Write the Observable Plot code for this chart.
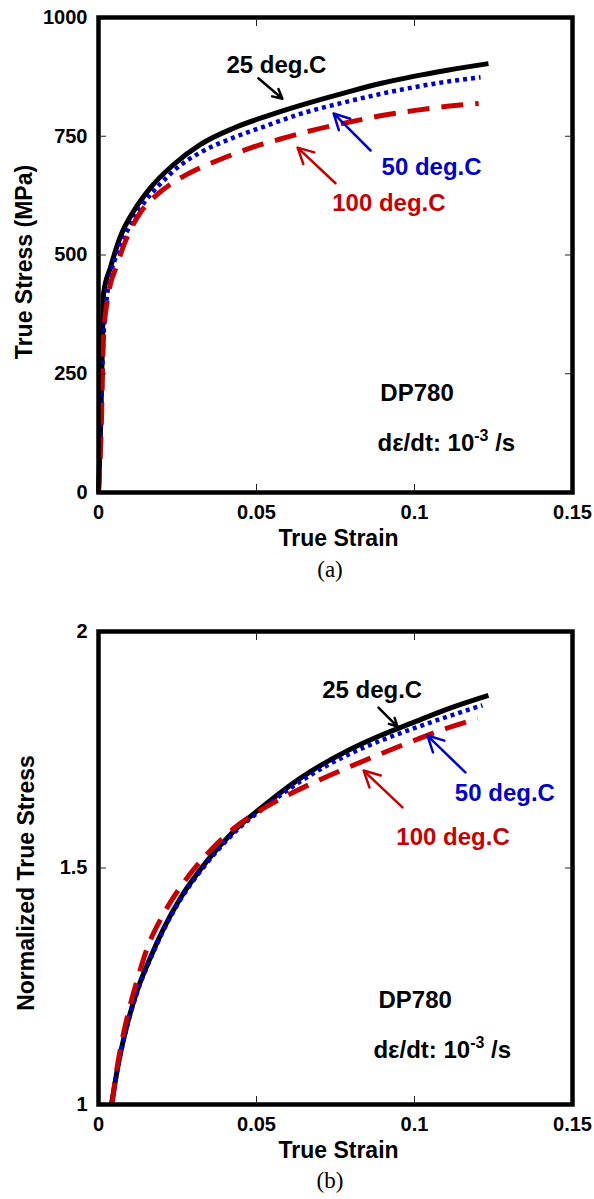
<!DOCTYPE html>
<html>
<head>
<meta charset="utf-8">
<script src="https://cdn.jsdelivr.net/npm/d3@7"></script>
<script src="https://cdn.jsdelivr.net/npm/@observablehq/plot@0.6"></script>
<style>
  body { margin: 0; background: #fff; width: 594px; }
  svg { display: block; }
  .cap {
    font-family: "Liberation Serif", "Times New Roman", serif;
    font-size: 23px;
    height: 30px;
    line-height: 30px;
    text-align: center;
    padding-left: 66px;
    box-sizing: border-box;
    width: 594px;
  }
</style>
</head>
<body>
<div id="panelA"></div>
<div class="cap">(a)</div>
<div id="panelB"></div>
<div class="cap">(b)</div>
<script>
// ---- axes ----
const strainTicks = [0, 0.05, 0.1, 0.15];
const strainTickLabels = ["0", "0.05", "0.1", "0.15"];
const stressTicks = [0, 250, 500, 750, 1000];
const stressTickLabels = ["0", "250", "500", "750", "1000"];
const normTicks = [1, 1.5, 2];
const normTickLabels = ["1", "1.5", "2"];

// ---- series labels / colours ----
const seriesNames = ["25 deg.C", "50 deg.C", "100 deg.C"];
const seriesColors = ["#000000", "#0000cc", "#c80000"];

// ---- (a) true stress–strain, DP780 ----
const strain25 = [0, 0.0006, 0.0012, 0.0016, 0.0038, 0.007, 0.0111, 0.0165, 0.0237, 0.0323, 0.0427, 0.0535, 0.0639, 0.0788, 0.0892, 0.0997, 0.1104, 0.1234];
const stress25 = [0, 120, 300, 419, 474, 540, 592, 642, 690, 733, 767, 793, 815, 843, 861, 876, 889, 903];

const strain50 = [0, 0.0006, 0.0014, 0.0028, 0.0054, 0.0092, 0.0142, 0.0196, 0.025, 0.0323, 0.0427, 0.0535, 0.0639, 0.0788, 0.0892, 0.0997, 0.1104, 0.1209];
const stress50 = [0, 110, 300, 419, 495, 552, 608, 650, 684, 716, 747, 773, 797, 823, 839, 853, 865, 874];

const strain100 = [0, 0.0008, 0.0016, 0.0028, 0.006, 0.0092, 0.0133, 0.0187, 0.0237, 0.0301, 0.0377, 0.048, 0.0585, 0.068, 0.0788, 0.0892, 0.0997, 0.1104, 0.1203];
const stress100 = [0, 120, 330, 404, 482, 540, 590, 628, 653, 677, 699, 725, 746, 763, 779, 793, 804, 813, 819];

// ---- (b) normalized true stress ----
const normStrain25 = [0.0041, 0.0064, 0.0091, 0.0122, 0.0165, 0.0206, 0.026, 0.0345, 0.0427, 0.0535, 0.0639, 0.0788, 0.0892, 0.0997, 0.1104, 0.1234];
const norm25 = [1.0, 1.09, 1.17, 1.24, 1.312, 1.372, 1.437, 1.516, 1.577, 1.638, 1.69, 1.748, 1.78, 1.808, 1.836, 1.865];

const normStrain50 = [0.0041, 0.0064, 0.0091, 0.0122, 0.0165, 0.0206, 0.026, 0.0345, 0.0427, 0.0535, 0.0639, 0.0788, 0.0892, 0.0997, 0.1104, 0.1215];
const norm50 = [1.0, 1.088, 1.167, 1.237, 1.309, 1.369, 1.434, 1.512, 1.573, 1.633, 1.683, 1.739, 1.769, 1.795, 1.82, 1.844];

const normStrain100 = [0.0043, 0.0054, 0.007, 0.0091, 0.0122, 0.0154, 0.0206, 0.0265, 0.0344, 0.0427, 0.0522, 0.0617, 0.0788, 0.0892, 0.0997, 0.1104, 0.12];
const norm100 = [1.0, 1.057, 1.12, 1.185, 1.262, 1.33, 1.403, 1.465, 1.53, 1.583, 1.626, 1.66, 1.712, 1.741, 1.769, 1.796, 1.816];

// ---- annotation placements (data units) ----
// [label x, label y, arrow tail x, tail y, arrow head x, head y]
const calloutsA = [
  [0.0563, 899, 0.0506, 872, 0.0582, 829],
  [0.1054, 684, 0.0861, 720, 0.0744, 798],
  [0.0919, 608, 0.0750, 651, 0.0630, 726]
];
const calloutsB = [
  [0.0866, 1.875, 0.0886, 1.839, 0.0946, 1.799],
  [0.1286, 1.657, 0.1161, 1.702, 0.1041, 1.780],
  [0.1122, 1.564, 0.0962, 1.628, 0.0839, 1.706]
];
const materialName = "DP780";
const rateText = "dε/dt: 10^-3 /s";
const infoA = [[0.0892, 208, materialName], [0.0883, 103, rateText]];
const infoB = [[0.0886, 1.22, materialName], [0.0870, 1.114, rateText]];

const FONT = '"Liberation Sans", Arial, Helvetica, sans-serif';

function rows(xs, ys) { return xs.map((x, i) => ({x, y: ys[i]})); }

function curveMarks(series) {
  const styles = [
    {stroke: seriesColors[0], strokeWidth: 5},
    {stroke: seriesColors[1], strokeWidth: 4.5, strokeDasharray: "4,4"},
    {stroke: seriesColors[2], strokeWidth: 5, strokeDasharray: "22,12"}
  ];
  return series.map((s, i) =>
    Plot.line(s, {x: "x", y: "y", curve: "monotone-x", strokeLinecap: "butt", ...styles[i]})
  );
}

function calloutMarks(callouts) {
  const data = callouts.map((c, i) => ({
    lx: c[0], ly: c[1], x1: c[2], y1: c[3], x2: c[4], y2: c[5],
    name: seriesNames[i], color: seriesColors[i]
  }));
  return [
    Plot.arrow(data, {x1: "x1", y1: "y1", x2: "x2", y2: "y2", stroke: d => d.color,
      strokeWidth: 2.5, headLength: 13, headAngle: 55, insetStart: 0, insetEnd: 0}),
    Plot.text(data, {x: "lx", y: "ly", text: "name", fill: d => d.color,
      fontSize: 24, fontWeight: "bold", fontFamily: FONT, textAnchor: "middle"})
  ];
}

function infoMarks(info) {
  return Plot.text(info, {x: d => d[0], y: d => d[1], text: d => d[2], fill: "black",
    fontSize: 24, fontWeight: "bold", fontFamily: FONT, textAnchor: "start"});
}

function frameAxes(xTicks, xLabels, yTicks, yLabels) {
  const xInner = xTicks.slice(1, -1), yInner = yTicks.slice(1, -1);
  const xl = new Map(xTicks.map((t, i) => [t, xLabels[i]]));
  const yl = new Map(yTicks.map((t, i) => [t, yLabels[i]]));
  const tick = {tickSize: -8, fill: "none", label: null, stroke: "#222", strokeWidth: 1};
  return [
    Plot.axisX(xInner, {anchor: "bottom", ...tick}),
    Plot.axisX(xInner, {anchor: "top", ...tick}),
    Plot.axisY(yInner, {anchor: "left", ...tick}),
    Plot.axisY(yInner, {anchor: "right", ...tick}),
    Plot.axisX(xTicks, {anchor: "bottom", tickSize: 0, tickPadding: 12, label: null,
      tickFormat: d => xl.get(d), fontSize: 20, fontWeight: "bold", fontFamily: FONT, fill: "black"}),
    Plot.axisY(yTicks, {anchor: "left", tickSize: 0, tickPadding: 11, label: null,
      tickFormat: d => yl.get(d), fontSize: 20, fontWeight: "bold", fontFamily: FONT, fill: "black"})
  ];
}

function titles(xTitle, yTitle, yDx, yDy) {
  return [
    Plot.text([xTitle], {frameAnchor: "bottom", dy: 46, dx: 3, text: d => d, lineAnchor: "middle",
      textAnchor: "middle", fontSize: 23, fontWeight: "bold", fontFamily: FONT, fill: "black"}),
    Plot.text([yTitle], {frameAnchor: "left", dx: yDx, dy: yDy, rotate: -90, text: d => d, lineAnchor: "middle",
      textAnchor: "middle", fontSize: 23, fontWeight: "bold", fontFamily: FONT, fill: "black"})
  ];
}

// Rewrite "10^-3" into a superscripted exponent
function superscripts(svg) {
  svg.querySelectorAll("text").forEach(t => {
    const s = t.textContent;
    if (!s.includes("^")) return;
    const m = s.match(/^(.*?)\^(\S+)(.*)$/);
    if (!m) return;
    t.textContent = "";
    const ns = "http://www.w3.org/2000/svg";
    const a = document.createElementNS(ns, "tspan"); a.textContent = m[1];
    const b = document.createElementNS(ns, "tspan"); b.textContent = m[2];
    b.setAttribute("font-size", "16"); b.setAttribute("dy", "-10");
    const c = document.createElementNS(ns, "tspan"); c.textContent = m[3];
    c.setAttribute("dy", "10");
    t.append(a, b, c);
  });
}

const common = {
  width: 594,
  marginLeft: 98,
  marginRight: 22,
  style: {fontFamily: FONT, fontSize: "20px", fontWeight: "bold", color: "black", background: "white", overflow: "visible"}
};

const plotA = Plot.plot({
  ...common,
  height: 555,
  marginTop: 17,
  marginBottom: 63,
  x: {domain: [0, 0.15]},
  y: {domain: [0, 1000]},
  marks: [
    ...curveMarks([rows(strain25, stress25), rows(strain50, stress50), rows(strain100, stress100)]),
    Plot.frame({stroke: "black", strokeWidth: 4.5}),
    ...frameAxes(strainTicks, strainTickLabels, stressTicks, stressTickLabels),
    ...titles("True Strain", "True Stress (MPa)", -74, 7),
    ...calloutMarks(calloutsA),
    infoMarks(infoA)
  ]
});
superscripts(plotA);
document.getElementById("panelA").append(plotA);

const plotB = Plot.plot({
  ...common,
  height: 581,
  marginTop: 46,
  marginBottom: 62,
  x: {domain: [0, 0.15]},
  y: {domain: [1, 2]},
  marks: [
    ...curveMarks([rows(normStrain25, norm25), rows(normStrain50, norm50), rows(normStrain100, norm100)]),
    Plot.frame({stroke: "black", strokeWidth: 4.5}),
    ...frameAxes(strainTicks, strainTickLabels, normTicks, normTickLabels),
    ...titles("True Strain", "Normalized True Stress", -72, 15),
    ...calloutMarks(calloutsB),
    infoMarks(infoB)
  ]
});
superscripts(plotB);
document.getElementById("panelB").append(plotB);
</script>
</body>
</html>
